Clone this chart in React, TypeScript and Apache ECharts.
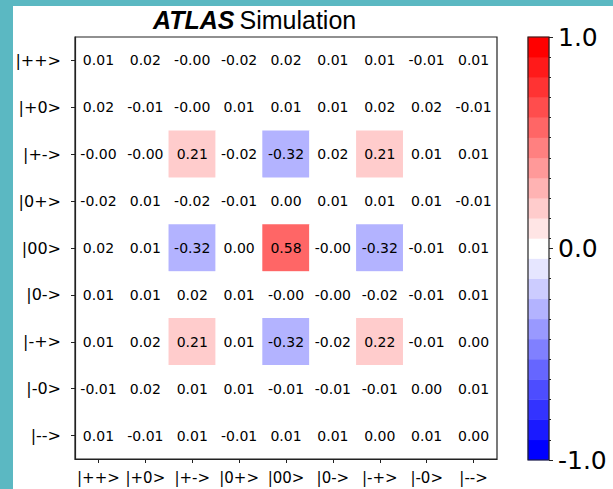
import React, { useEffect, useRef } from "react";
import * as echarts from "echarts";

const STATES = ["|++>", "|+0>", "|+->", "|0+>", "|00>", "|0->", "|-+>", "|-0>", "|-->"];
const COL_LABELS = STATES;
const ROW_LABELS = STATES;

// rows top -> bottom, columns left -> right (-0 shown as "-0.00")
const ROW_PP = [0.01, 0.02, -0, -0.02, 0.02, 0.01, 0.01, -0.01, 0.01];
const ROW_P0 = [0.02, -0.01, -0, 0.01, 0.01, 0.01, 0.02, 0.02, -0.01];
const ROW_PM = [-0, -0, 0.21, -0.02, -0.32, 0.02, 0.21, 0.01, 0.01];
const ROW_0P = [-0.02, 0.01, -0.02, -0.01, 0.0, 0.01, 0.01, 0.01, -0.01];
const ROW_00 = [0.02, 0.01, -0.32, 0.0, 0.58, -0, -0.32, -0.01, 0.01];
const ROW_0M = [0.01, 0.01, 0.02, 0.01, -0, -0, -0.02, -0.01, 0.01];
const ROW_MP = [0.01, 0.02, 0.21, 0.01, -0.32, -0.02, 0.22, -0.01, 0.0];
const ROW_M0 = [-0.01, 0.02, 0.01, 0.01, -0.01, -0.01, -0.01, 0.0, 0.01];
const ROW_MM = [0.01, -0.01, 0.01, -0.01, 0.01, 0.01, 0.0, 0.01, 0.0];
const MATRIX = [ROW_PP, ROW_P0, ROW_PM, ROW_0P, ROW_00, ROW_0M, ROW_MP, ROW_M0, ROW_MM];

const VMIN = -1;
const VMAX = 1;
const N_LEVELS = 21;

function bwr(t: number): string {
  // matplotlib "bwr": blue -> white -> red
  let r: number, g: number, b: number;
  if (t <= 0.5) {
    const s = t / 0.5;
    r = s; g = s; b = 1;
  } else {
    const s = (1 - t) / 0.5;
    r = 1; g = s; b = s;
  }
  const h = (v: number) => Math.round(v * 255).toString(16).padStart(2, "0");
  return "#" + h(r) + h(g) + h(b);
}

function fmt(v: number): string {
  const neg = v < 0 || Object.is(v, -0);
  return (neg ? "-" : "") + Math.abs(v).toFixed(2);
}

const FONT = "DejaVu Sans";
const LINE = "#222";

export default function App() {
  const ref = useRef<HTMLDivElement>(null);

  useEffect(() => {
    if (!ref.current) return;
    const chart = echarts.init(ref.current, undefined, { renderer: "svg" });

    const step = (VMAX - VMIN) / N_LEVELS;
    const levelIdx = Array.from({ length: N_LEVELS }, (_, i) => i);
    const pieces = levelIdx.map((i) => {
      const p: any = { gte: VMIN + i * step, color: bwr(i / (N_LEVELS - 1)) };
      if (i < N_LEVELS - 1) p.lt = VMIN + (i + 1) * step;
      else p.lte = VMAX + 1e-9;
      return p;
    });
    pieces[0].gte = VMIN - 1e-9;

    const heatData: any[] = [];
    MATRIX.forEach((row, r) => {
      row.forEach((v, c) => {
        heatData.push([c, r, v]);
      });
    });

    const cbarData = levelIdx.map((i) => [0, i, VMIN + (i + 0.5) * step]);

    const option: any = {
      animation: false,
      backgroundColor: "transparent",
      title: {
        left: 148,
        top: 2,
        text: "{a|ATLAS} {b|Simulation}",
        textStyle: {
          rich: {
            a: {
              fontFamily: "Liberation Sans",
              fontWeight: "bold",
              fontStyle: "italic",
              fontSize: 25,
              color: "#000",
            },
            b: {
              fontFamily: "Liberation Sans",
              fontWeight: "normal",
              fontSize: 25,
              color: "#000",
            },
          },
        },
      },
      visualMap: {
        type: "piecewise",
        show: false,
        dimension: 2,
        seriesIndex: [0, 1],
        pieces,
      },
      grid: [
        {
          left: 75,
          top: 37,
          width: 422,
          height: 422,
          show: true,
          z: 10,
          borderColor: LINE,
          borderWidth: 1.2,
          backgroundColor: "transparent",
        },
        {
          left: 528,
          top: 37,
          width: 21,
          height: 423,
          show: true,
          z: 10,
          borderColor: LINE,
          borderWidth: 1.2,
          backgroundColor: "transparent",
        },
      ],
      xAxis: [
        {
          type: "category",
          gridIndex: 0,
          data: COL_LABELS,
          position: "bottom",
          z: 10,
          axisLine: { show: true, lineStyle: { color: LINE, width: 1.2 } },
          axisTick: { show: true, alignWithLabel: true, length: 4, lineStyle: { color: LINE } },
          axisLabel: {
            interval: 0,
            margin: 11,
            fontFamily: FONT,
            fontSize: 15,
            color: "#000",
          },
          splitLine: { show: false },
        },
        {
          type: "category",
          gridIndex: 1,
          data: [""],
          show: false,
        },
      ],
      yAxis: [
        {
          type: "category",
          gridIndex: 0,
          data: ROW_LABELS,
          inverse: true,
          position: "left",
          z: 10,
          axisLine: { show: true, lineStyle: { color: LINE, width: 1.2 } },
          axisTick: { show: true, alignWithLabel: true, length: 4, lineStyle: { color: LINE } },
          axisLabel: {
            interval: 0,
            margin: 14,
            fontFamily: FONT,
            fontSize: 16,
            color: "#000",
          },
          splitLine: { show: false },
        },
        {
          type: "category",
          gridIndex: 1,
          data: levelIdx.map(String),
          position: "right",
          z: 10,
          axisLine: { show: false },
          axisTick: { show: true, interval: 0, alignWithLabel: false, length: 2, lineStyle: { color: LINE } },
          axisLabel: { show: false },
          splitLine: { show: false },
        },
        {
          type: "value",
          gridIndex: 1,
          position: "right",
          min: VMIN,
          max: VMAX,
          interval: 1,
          z: 10,
          axisLine: { show: false },
          axisTick: { show: true, length: 4, lineStyle: { color: LINE } },
          axisLabel: {
            margin: 9,
            fontFamily: FONT,
            fontSize: 25,
            color: "#000",
            formatter: (v: number) => v.toFixed(1),
          },
          splitLine: { show: false },
        },
      ],
      series: [
        {
          type: "heatmap",
          xAxisIndex: 0,
          yAxisIndex: 0,
          data: heatData,
          label: {
            show: true,
            fontFamily: FONT,
            fontSize: 14,
            color: "#000",
            formatter: (p: any) => fmt(p.value[2]),
          },
          itemStyle: { borderWidth: 0 },
          emphasis: { disabled: true },
        },
        {
          type: "heatmap",
          xAxisIndex: 1,
          yAxisIndex: 1,
          data: cbarData,
          label: { show: false },
          itemStyle: { borderWidth: 0 },
          emphasis: { disabled: true },
        },
      ],
    };

    chart.setOption(option);
    return () => chart.dispose();
  }, []);

  return (
    <div style={{ position: "fixed", left: 0, top: 0, width: 613, height: 489, background: "#5bb8c2" }}>
      <div style={{ position: "absolute", left: 13, top: 6, right: 0, bottom: 0, background: "#fff" }} />
      <div ref={ref} style={{ position: "absolute", left: 0, top: 0, width: 613, height: 489 }} />
    </div>
  );
}
